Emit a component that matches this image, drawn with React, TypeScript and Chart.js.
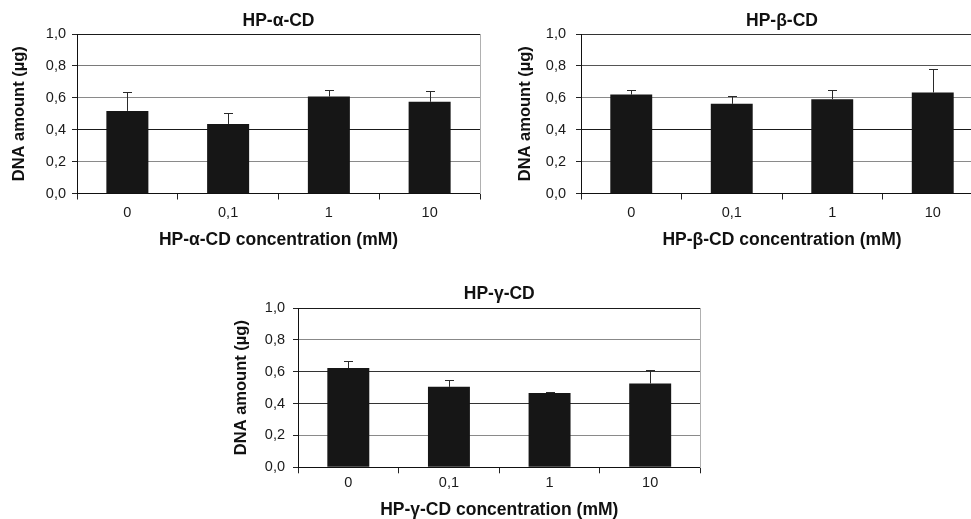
import React, { useEffect, useRef } from 'react';
import { Chart, registerables } from 'chart.js';

Chart.register(...registerables);

// ---- data ----
const categories = ['0', '0,1', '1', '10'];
const yTickValues = [0, 0.2, 0.4, 0.6, 0.8, 1.0];

const alphaMeans = [0.518, 0.436, 0.608, 0.575];
const alphaErrors = [0.117, 0.071, 0.04, 0.067];

const betaMeans = [0.62, 0.562, 0.591, 0.633];
const betaErrors = [0.032, 0.052, 0.061, 0.149];

const gammaMeans = [0.623, 0.505, 0.467, 0.526];
const gammaErrors = [0.044, 0.04, 0.007, 0.082];

const titles = ['HP-α-CD', 'HP-β-CD', 'HP-γ-CD'];
const xTitles = ['HP-α-CD concentration (mM)', 'HP-β-CD concentration (mM)', 'HP-γ-CD concentration (mM)'];
const yTitle = 'DNA amount (µg)';

// ---- styles ----
const FONT = '"Liberation Sans", Arial, Helvetica, sans-serif';
const gridColorsA = ['#111', '#8a8a8a', '#1a1a1a', '#8a8a8a', '#7a7a7a', '#1a1a1a'];
const gridColorsB = ['#111', '#8a8a8a', '#1a1a1a', '#8a8a8a', '#555', '#333'];
const gridColorsC = ['#111', '#8a8a8a', '#333', '#333', '#888', '#1a1a1a'];

interface PanelCfg {
  left: number; top: number; w: number; h: number;
  aL: number; aT: number; aR: number; aB: number;
  title: string; xTitle: string;
  means: number[]; errors: number[];
  gridColors: string[];
  yTickPad: number; yTitlePad: number;
  xTickPad: number; xTitleOffset: number;
  titleOffset: number;
}

const panels: PanelCfg[] = [
  { left: 0, top: 0, w: 490, h: 260, aL: 77, aT: 34, aR: 480, aB: 193.5,
    title: titles[0], xTitle: xTitles[0], means: alphaMeans, errors: alphaErrors,
    gridColors: gridColorsA, yTickPad: 6, yTitlePad: 9.6, xTickPad: 4.3, xTitleOffset: 47, titleOffset: 13 },
  { left: 504, top: 0, w: 489, h: 260, aL: 77, aT: 34, aR: 479, aB: 193.5,
    title: titles[1], xTitle: xTitles[1], means: betaMeans, errors: betaErrors,
    gridColors: gridColorsB, yTickPad: 10, yTitlePad: 11.6, xTickPad: 4.3, xTitleOffset: 47, titleOffset: 13 },
  { left: 221, top: 274, w: 490, h: 260, aL: 77, aT: 34, aR: 479.5, aB: 193.3,
    title: titles[2], xTitle: xTitles[2], means: gammaMeans, errors: gammaErrors,
    gridColors: gridColorsC, yTickPad: 8, yTitlePad: 10.6, xTickPad: 1.3, xTitleOffset: 42.7, titleOffset: 14 },
];

const TITLE_SIZE = 17.5;
const XTITLE_SIZE = 17.5;
const YTITLE_SIZE = 16.5;
const TICK_SIZE = 14.5;

function Panel({ cfg }: { cfg: PanelCfg }) {
  const ref = useRef<HTMLCanvasElement>(null);
  useEffect(() => {
    const titleLH = TITLE_SIZE * 1.2;
    const xTitleLH = XTITLE_SIZE * 1.2;
    const xH = cfg.xTitleOffset + xTitleLH / 2;
    const titlePadBottom = cfg.titleOffset - titleLH / 2;
    const titlePadTop = cfg.aT - titleLH - titlePadBottom;

    const errorBars = {
      id: 'errorBars',
      afterDatasetsDraw(chart: any) {
        const ctx = chart.ctx;
        const meta = chart.getDatasetMeta(0);
        const yScale = chart.scales.y;
        ctx.save();
        ctx.strokeStyle = '#2a2a2a';
        ctx.lineWidth = 1;
        meta.data.forEach((bar: any, i: number) => {
          const x = Math.round(bar.x) + 0.5;
          const yTop = bar.y;
          const yErr = Math.round(yScale.getPixelForValue(cfg.means[i] + cfg.errors[i])) + 0.5;
          ctx.beginPath();
          ctx.moveTo(x, yTop);
          ctx.lineTo(x, yErr);
          ctx.moveTo(x - 4.5, yErr);
          ctx.lineTo(x + 4.5, yErr);
          ctx.stroke();
        });
        ctx.restore();
      },
    };

    const chart = new Chart(ref.current as HTMLCanvasElement, {
      type: 'bar',
      data: {
        labels: categories,
        datasets: [
          {
            data: cfg.means,
            backgroundColor: '#161616',
            borderWidth: 0,
            categoryPercentage: 0.417,
            barPercentage: 1,
          },
        ],
      },
      options: {
        animation: false,
        responsive: false,
        devicePixelRatio: 1,
        layout: {
          autoPadding: false,
          padding: { left: 0, top: 0, right: cfg.w - cfg.aR, bottom: cfg.h - cfg.aB - xH },
        },
        plugins: {
          legend: { display: false },
          tooltip: { enabled: false },
          title: {
            display: true,
            text: cfg.title,
            fullSize: false,
            color: '#111',
            font: { family: FONT, size: TITLE_SIZE, weight: 'bold', lineHeight: 1.2 },
            padding: { top: titlePadTop, bottom: titlePadBottom },
          },
        },
        scales: {
          x: {
            type: 'category',
            offset: true,
            afterFit: (s: any) => { s.height = xH; },
            grid: {
              offset: true,
              drawOnChartArea: false,
              drawTicks: true,
              tickLength: 6,
              color: '#222',
              tickColor: '#222',
            },
            border: { display: true, color: '#111', width: 1 },
            ticks: {
              color: '#1a1a1a',
              padding: cfg.xTickPad,
              font: { family: FONT, size: TICK_SIZE, lineHeight: 1.2 },
              maxRotation: 0,
            },
            title: {
              display: true,
              text: cfg.xTitle,
              color: '#111',
              font: { family: FONT, size: XTITLE_SIZE, weight: 'bold', lineHeight: 1.2 },
              padding: { top: 0, bottom: 0 },
            },
          },
          y: {
            type: 'linear',
            min: 0,
            max: 1,
            afterFit: (s: any) => { s.width = cfg.aL; },
            afterBuildTicks: (s: any) => { s.ticks = yTickValues.map((v) => ({ value: v })); },
            grid: {
              drawTicks: true,
              tickLength: 5,
              tickColor: '#222',
              lineWidth: 1,
              color: (c: any) => cfg.gridColors[c.index] ?? '#888',
            },
            border: { display: true, color: '#111', width: 1 },
            ticks: {
              color: '#1a1a1a',
              padding: cfg.yTickPad,
              font: { family: FONT, size: TICK_SIZE, lineHeight: 1.2 },
              callback: (v: any) => Number(v).toFixed(1).replace('.', ','),
            },
            title: {
              display: true,
              text: yTitle,
              color: '#111',
              font: { family: FONT, size: YTITLE_SIZE, weight: 'bold', lineHeight: 1.2 },
              padding: { top: cfg.yTitlePad, bottom: 0 },
            },
          },
          y2: {
            type: 'linear',
            position: 'right',
            min: 0,
            max: 1,
            afterFit: (s: any) => { s.width = 0; },
            grid: { display: false, drawTicks: false },
            ticks: { display: false },
            border: { display: true, color: '#b0b0b0', width: 1 },
          },
        },
      } as any,
      plugins: [errorBars],
    });
    return () => chart.destroy();
  }, [cfg]);

  return (
    <canvas
      ref={ref}
      width={cfg.w}
      height={cfg.h}
      style={{ position: 'absolute', left: cfg.left, top: cfg.top, width: cfg.w, height: cfg.h }}
    />
  );
}

export default function App() {
  return (
    <div
      style={{
        position: 'fixed',
        left: 0,
        top: 0,
        width: 971,
        height: 519,
        overflow: 'hidden',
        background: '#fff',
      }}
    >
      {panels.map((p, i) => (
        <Panel key={i} cfg={p} />
      ))}
    </div>
  );
}
